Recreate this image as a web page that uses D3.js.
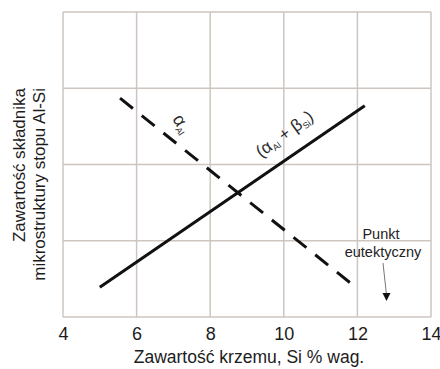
<!DOCTYPE html>
<html>
<head>
<meta charset="utf-8">
<script src="https://cdn.jsdelivr.net/npm/d3@7"></script>
<style>
  html, body { margin: 0; padding: 0; background: #fff; }
  svg { display: block; font-family: "Liberation Sans", Arial, sans-serif; }
</style>
</head>
<body>
<svg id="chart" width="440" height="369"></svg>
<script>
// Silicon content (wt %) ticks and the vertical grid levels
const xTicks = [4, 6, 8, 10, 12, 14];
const yGrid = [1, 2, 3];

// Eutectic-type constituent (alpha + beta) rises with Si content
const eutecticSi = [5.0, 12.2];
const eutecticAmount = [0.39, 2.77];

// Primary alpha-Al falls with Si content
const alphaSi = [5.55, 11.8];
const alphaAmount = [2.87, 0.45];

const svg = d3.select("#chart");
const m = { left: 63, right: 431, top: 12, bottom: 317 };

const x = d3.scaleLinear().domain([4, 14]).range([m.left, m.right]);
const y = d3.scaleLinear().domain([0, 4]).range([m.bottom, m.top]);

const gridColor = "#cdc6c0";
const ink = "#1c1c1c";

// grid
svg.append("g").selectAll("line").data(xTicks).join("line")
  .attr("x1", d => x(d)).attr("x2", d => x(d))
  .attr("y1", m.top).attr("y2", m.bottom)
  .attr("stroke", gridColor).attr("stroke-width", 1.5);
svg.append("g").selectAll("line").data([0, ...yGrid, 4]).join("line")
  .attr("x1", m.left).attr("x2", m.right)
  .attr("y1", d => y(d)).attr("y2", d => y(d))
  .attr("stroke", gridColor).attr("stroke-width", 1.5);

// x axis tick labels
const xAxis = d3.axisBottom(x).tickValues(xTicks).tickSize(0).tickPadding(10)
  .tickFormat(d3.format("d"));
const gx = svg.append("g").attr("transform", `translate(0,${m.bottom})`).call(xAxis);
gx.select(".domain").remove();
gx.selectAll("text").attr("font-size", 18).attr("fill", ink)
  .attr("font-family", "Liberation Sans, Arial, sans-serif");

// axis titles
svg.append("text").attr("x", 249).attr("y", 363).attr("text-anchor", "middle")
  .attr("font-size", 17.5).attr("fill", ink).text("Zawartość krzemu, Si % wag.");
const yt = svg.append("text").attr("transform", "rotate(-90)")
  .attr("text-anchor", "end").attr("font-size", 17).attr("fill", ink);
yt.append("tspan").attr("x", -88).attr("y", 25).text("Zawartość składnika");
yt.append("tspan").attr("x", -88).attr("y", 45).text("mikrostruktury stopu Al-Si");

const line = d3.line().x(d => x(d[0])).y(d => y(d[1]));

svg.append("path")
  .datum(d3.zip(eutecticSi, eutecticAmount))
  .attr("d", line).attr("fill", "none")
  .attr("stroke", "#111").attr("stroke-width", 3);

const dashed = svg.append("path")
  .datum(d3.zip(alphaSi, alphaAmount))
  .attr("d", line).attr("fill", "none")
  .attr("stroke", "#111").attr("stroke-width", 3);

// stretch the dash pattern slightly so the line starts and ends on a dash
{
  const dash = 16, gap = 11;
  const len = dashed.node().getTotalLength();
  const n = Math.round((len + gap) / (dash + gap));
  const k = (len + gap) / (n * (dash + gap));
  dashed.attr("stroke-dasharray", `${dash * k} ${gap * k}`);
}

// line labels
const la = svg.append("text").attr("transform", "translate(172,119) rotate(58)")
  .attr("font-size", 18).attr("fill", "#2a2a2a");
la.append("tspan").text("α");
la.append("tspan").attr("font-size", 9).attr("dy", 3).text("Al");

const lb = svg.append("text").attr("transform", "translate(261,158) rotate(-36)")
  .attr("font-size", 17).attr("fill", "#2a2a2a");
lb.append("tspan").text("(α");
lb.append("tspan").attr("font-size", 9).attr("dy", 3).text("Al");
lb.append("tspan").attr("dy", -3).text(" + β");
lb.append("tspan").attr("font-size", 9).attr("dy", 3).text("Si");
lb.append("tspan").attr("dy", -3).text(")");

// eutectic point annotation
svg.append("text").attr("x", 381).attr("y", 239).attr("text-anchor", "middle")
  .attr("font-size", 14.5).attr("fill", "#222").text("Punkt");
svg.append("text").attr("x", 383).attr("y", 257).attr("text-anchor", "middle")
  .attr("font-size", 14.5).attr("fill", "#222").text("eutektyczny");
svg.append("line").attr("x1", 383).attr("y1", 263).attr("x2", 386.5).attr("y2", 295)
  .attr("stroke", "#777").attr("stroke-width", 1);
svg.append("path").attr("d", "M382.5,293 L390.5,293 L386.5,301 Z").attr("fill", "#111");
</script>
</body>
</html>
